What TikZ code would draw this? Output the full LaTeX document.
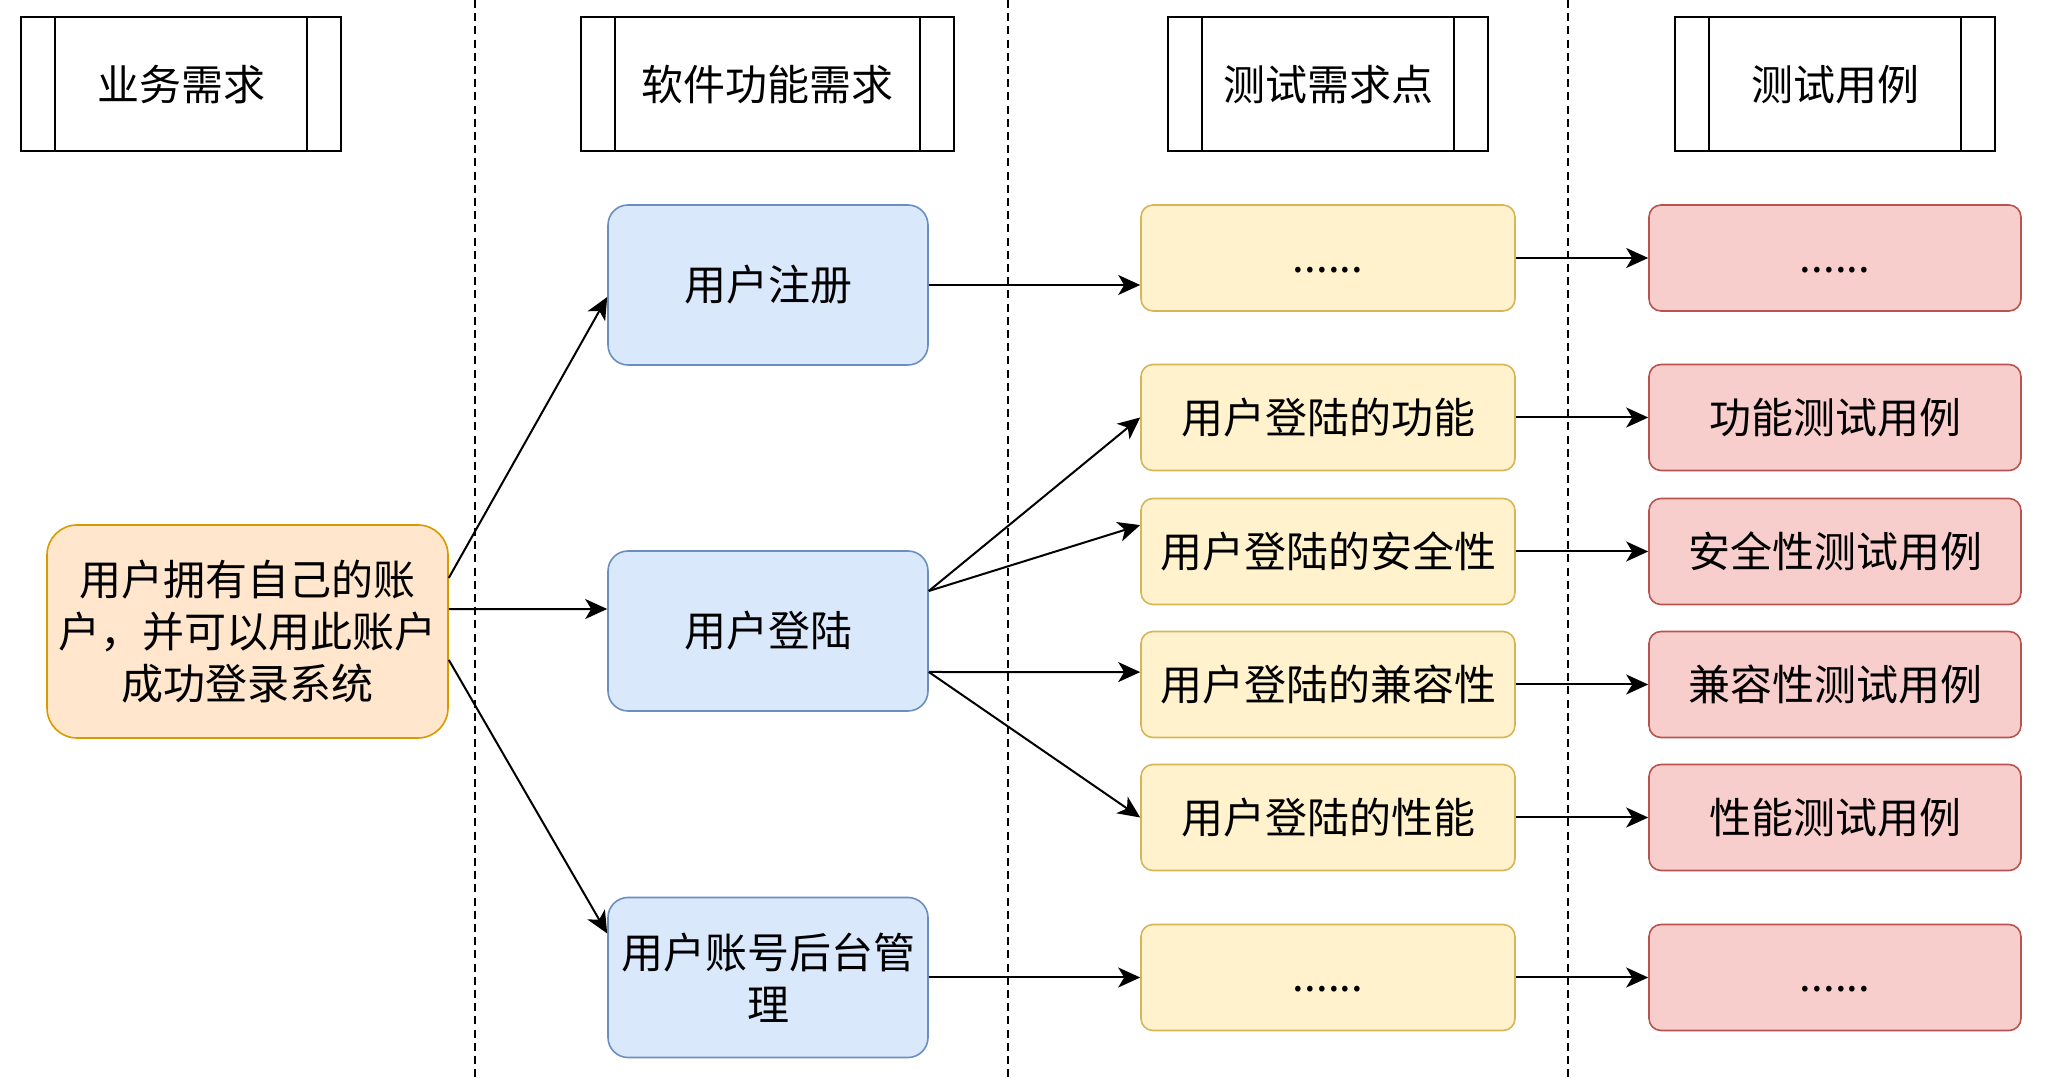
\documentclass[tikz,border=0pt]{standalone}
\usepackage{fontspec}
\newfontfamily\cjk{Noto Sans CJK SC}
\usetikzlibrary{arrows.meta}
\definecolor{orangefill}{HTML}{FFE6CC}
\definecolor{orangeline}{HTML}{D79B00}
\definecolor{bluefill}{HTML}{DAE8FC}
\definecolor{blueline}{HTML}{6C8EBF}
\definecolor{yellowfill}{HTML}{FFF2CC}
\definecolor{yellowline}{HTML}{D6B656}
\definecolor{redfill}{HTML}{F8CECC}
\definecolor{redline}{HTML}{B85450}
\newcommand{\more}{\vphantom{用}......}

\begin{document}
\begin{tikzpicture}[x=0.25pt,y=-0.25pt,>={Stealth[length=5.5pt,width=5pt,inset=1.5pt]}, every node/.style={font=\cjk\fontsize{10.5}{13}\selectfont}]
\tikzstyle{head}=[draw,line width=0.5pt,minimum width=80pt,minimum height=33.5pt,
  path picture={\draw ([xshift=8.5pt]path picture bounding box.north west) -- ([xshift=8.5pt]path picture bounding box.south west);
                \draw ([xshift=-8.5pt]path picture bounding box.north east) -- ([xshift=-8.5pt]path picture bounding box.south east);}]
\tikzstyle{box}=[draw,align=center,inner sep=1pt]
\tikzstyle{req}=[box,fill=bluefill,draw=blueline,rounded corners=5pt,minimum width=80pt,minimum height=40pt]
\tikzstyle{point}=[box,fill=yellowfill,draw=yellowline,rounded corners=3pt,minimum width=93.5pt,minimum height=26.5pt]
\tikzstyle{case}=[box,fill=redfill,draw=redline,rounded corners=3pt,minimum width=93pt,minimum height=26.5pt]
\tikzstyle{lane}=[line width=0.35pt,dash pattern=on 2pt off 1.3pt]
\tikzstyle{link}=[->,line width=0.5pt]
\useasboundingbox (0,0) rectangle (2058,1078);
% lane separators
\draw[lane] (475,0) -- (475,1078);
\draw[lane] (1008,0) -- (1008,1078);
\draw[lane] (1568,0) -- (1568,1078);
% column headers
\node[head] (hbiz) at (181,84.5) {业务需求};
\node[head,minimum width=93.25pt] (hsw) at (767.5,84.5) {软件功能需求};
\node[head] (htp) at (1328,84.5) {测试需求点};
\node[head] (htc) at (1835,84.5) {测试用例};
% business requirement
\node[box,fill=orangefill,draw=orangeline,rounded corners=7.5pt,minimum width=100.25pt,minimum height=53.25pt] (biz) at (247.5,631.5) {用户拥有自己的账\\户，并可以用此账户\\成功登录系统};
% software requirements
\node[req] (reg) at (768,285) {用户注册};
\node[req] (login) at (768,631) {用户登陆};
\node[req] (admin) at (768,977.5) {用户账号后台管\\理};
% test points
\node[point] (p1) at (1328,258) {\more};
\node[point] (p2) at (1328,417.5) {用户登陆的功能};
\node[point] (p3) at (1328,551.5) {用户登陆的安全性};
\node[point] (p4) at (1328,684.5) {用户登陆的兼容性};
\node[point] (p5) at (1328,817.5) {用户登陆的性能};
\node[point] (p6) at (1328,977.5) {\more};
% test cases
\node[case] (c1) at (1835,258) {\more};
\node[case] (c2) at (1835,417.5) {功能测试用例};
\node[case] (c3) at (1835,551.5) {安全性测试用例};
\node[case] (c4) at (1835,684.5) {兼容性测试用例};
\node[case] (c5) at (1835,817.5) {性能测试用例};
\node[case] (c6) at (1835,977.5) {\more};
% connectors
\draw[link] ([yshift=13.4pt]biz.east) -- ([yshift=-3pt]reg.west);
\draw[link] ([yshift=5.6pt]biz.east) -- ([yshift=5.5pt]login.west);
\draw[link] ([yshift=-7.1pt]biz.east) -- ([yshift=11pt]admin.west);
\draw[link] (reg.east) -- ([yshift=-6.75pt]p1.west);
\draw[link] ([yshift=10pt]login.east) -- (p2.west);
\draw[link] ([yshift=10pt]login.east) -- ([yshift=6.6pt]p3.west);
\draw[link] ([yshift=-10.25pt]login.east) -- ([yshift=3.1pt]p4.west);
\draw[link] ([yshift=-10.25pt]login.east) -- (p5.west);
\draw[link] (admin.east) -- (p6.west);
\draw[link] (p1) -- (c1);
\draw[link] (p2) -- (c2);
\draw[link] (p3) -- (c3);
\draw[link] (p4) -- (c4);
\draw[link] (p5) -- (c5);
\draw[link] (p6) -- (c6);
\end{tikzpicture}
\end{document}
